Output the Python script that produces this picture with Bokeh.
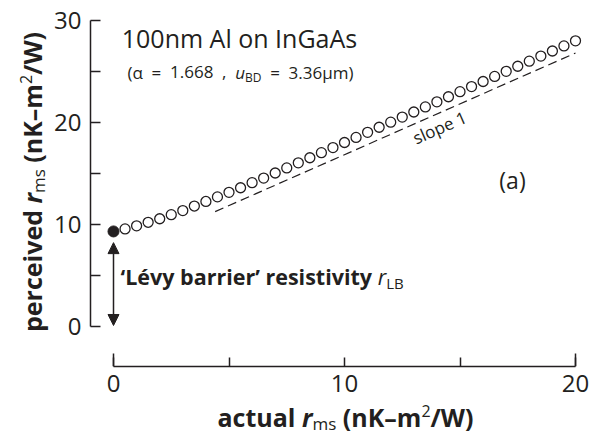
import math, os, subprocess
from bokeh.plotting import figure
from bokeh.models import Label, Arrow, NormalHead, FixedTicker, Range1d
from bokeh.embed import file_html
from bokeh.resources import INLINE

# ---------------- data ----------------
actual_rms = [0.0, 0.5, 1.0, 1.5, 2.0, 2.5, 3.0, 3.5, 4.0, 4.5,
              5.0, 5.5, 6.0, 6.5, 7.0, 7.5, 8.0, 8.5, 9.0, 9.5,
              10.0, 10.5, 11.0, 11.5, 12.0, 12.5, 13.0, 13.5, 14.0, 14.5,
              15.0, 15.5, 16.0, 16.5, 17.0, 17.5, 18.0, 18.5, 19.0, 19.5, 20.0]
perceived_rms = [9.3, 9.55, 9.85, 10.2, 10.55, 10.95, 11.35, 11.8, 12.25, 12.7,
                 13.15, 13.6, 14.1, 14.55, 15.05, 15.55, 16.05, 16.55, 17.05, 17.55,
                 18.05, 18.55, 19.05, 19.55, 20.05, 20.55, 21.05, 21.55, 22.05, 22.55,
                 23.05, 23.55, 24.05, 24.55, 25.05, 25.55, 26.05, 26.55, 27.05, 27.55, 28.05]
slope_x = [4.4, 20.0]
slope_y = [11.25, 26.85]
arrow_y = [8.2, 0.05]
x_ticks = [0, 10, 20]
x_minor = [5, 15]
y_ticks = [0, 10, 20, 30]
y_minor = [5, 15, 25]

# ---------------- layout ----------------
FONT = "Open Sans"
INK = "#231f20"
W, H = 600, 436
PPX, PPY = 23.1, 10.167          # pixels per data unit
OX, OY = 113.0, 325.5            # pixel position of data origin
X0, X1 = -OX / PPX, (W - OX) / PPX
Y0, Y1 = (OY - H) / PPY, OY / PPY
Y_AXIS_AT = (90 - OX) / PPX
X_AXIS_AT = (OY - 365.5) / PPY
BASE_FIX = {"alphabetic": 0.36, "middle": 0.13}


def dx(ix):
    return (ix - OX) / PPX


def dy(iy):
    return (OY - iy) / PPY


# --------- text measuring ---------
_font_cache = {}


def _font_path(style):
    spec = {"normal": "", "bold": ":bold", "italic": ":italic", "bold italic": ":bold:italic"}[style]
    try:
        out = subprocess.run(["fc-match", "-f", "%{file}", FONT + spec],
                             capture_output=True, text=True, timeout=10).stdout.strip()
        if out and os.path.exists(out):
            return out
    except Exception:
        pass
    return None


def width(text, size, style):
    try:
        from PIL import ImageFont
        key = (size, style)
        if key not in _font_cache:
            f = ImageFont.truetype(_font_path(style), size)
            try:
                names = [n.decode() if isinstance(n, bytes) else n for n in f.get_variation_names()]
                want = {"normal": "Regular", "bold": "Bold", "italic": "Italic",
                        "bold italic": "Bold Italic"}[style]
                if want in names:
                    f.set_variation_by_name(want)
            except Exception:
                pass
            _font_cache[key] = f
        return _font_cache[key].getlength(text)
    except Exception:
        return len(text) * size * (0.6 if "bold" in style else 0.55)


p = figure(width=W, height=H, x_range=Range1d(X0, X1), y_range=Range1d(Y0, Y1),
           output_backend="svg", toolbar_location=None,
           min_border_left=0, min_border_right=0, min_border_top=0, min_border_bottom=0)
p.grid.visible = False
p.outline_line_color = None

for ax, bounds, ticks, minor, tin, loc in (
        (p.xaxis[0], (x_ticks[0], x_ticks[-1]), x_ticks, x_minor, 9, X_AXIS_AT),
        (p.yaxis[0], (y_ticks[0], y_ticks[-1]), y_ticks, y_minor, 10, Y_AXIS_AT)):
    ax.fixed_location = loc
    ax.bounds = bounds
    ax.ticker = FixedTicker(ticks=ticks, minor_ticks=minor)
    ax.major_tick_in = tin
    ax.major_tick_out = 0
    ax.minor_tick_in = tin
    ax.minor_tick_out = 0
    ax.axis_line_width = 1.5
    ax.axis_line_color = INK
    ax.major_tick_line_width = 1.5
    ax.major_tick_line_color = INK
    ax.minor_tick_line_width = 1.5
    ax.minor_tick_line_color = INK
    ax.major_label_text_font = FONT
    ax.major_label_text_font_size = "24px"
    ax.major_label_text_color = INK
p.xaxis[0].major_label_standoff = 9
p.yaxis[0].major_label_standoff = 9

# longer end ticks on x axis
p.segment(x0=[x_ticks[0], x_ticks[-1]], y0=[X_AXIS_AT] * 2, x1=[x_ticks[0], x_ticks[-1]],
          y1=[X_AXIS_AT + 12.5 / PPY] * 2, line_color=INK, line_width=1.5)

# slope-1 dashed line
p.line(slope_x, slope_y, line_color=INK, line_width=1.2, line_dash="9 5")

# data
p.scatter(actual_rms[1:], perceived_rms[1:], marker="circle", size=10,
          fill_color="white", line_color=INK, line_width=1.3)
p.scatter(actual_rms[:1], perceived_rms[:1], marker="circle", size=11,
          fill_color=INK, line_color=INK, line_width=1)

# double arrow
head = dict(size=11, fill_color=INK, line_color=INK, line_width=1)
p.add_layout(Arrow(start=NormalHead(**head), end=NormalHead(**head),
                   x_start=actual_rms[0], y_start=arrow_y[0], x_end=actual_rms[0], y_end=arrow_y[1],
                   line_color=INK, line_width=1.5))


def label(ix, iy, text, size, style="normal", xo=0.0, yo=0.0, angle=0.0,
          align="left", baseline="alphabetic"):
    fix = BASE_FIX.get(baseline, 0.0) * size
    xo = xo - fix * math.sin(angle)
    yo = yo + fix * math.cos(angle)
    p.add_layout(Label(x=dx(ix), y=dy(iy), x_offset=xo, y_offset=yo, text=text,
                       text_font=FONT, text_font_size=f"{size}px", text_font_style=style,
                       text_color=INK, text_align=align, text_baseline=baseline,
                       angle=angle))


def runs_width(parts):
    return sum(width(t, s, st) for t, s, st, _ in parts)


def runs(ix, iy, parts, angle=0.0):
    pos = 0.0
    for text, size, style, shift in parts:
        lead = len(text) - len(text.lstrip(" "))
        adv = pos + width(text[:lead], size, style)
        if angle == 0.0:
            xo, yo = adv, shift
        else:
            xo, yo = -shift, adv
        label(ix, iy, text.strip(" "), size, style, xo, yo, angle)
        pos += width(text, size, style)


# title (centred on its reference extent)
t_size = 25
title_parts = [("100nm Al on InGaAs", t_size, "normal", 0)]
runs(239 - runs_width(title_parts) / 2, 46, title_parts)

# subtitle, spread over its reference extent
s_size = 17
sub_parts = [("(α", s_size, "normal", 0), ("=", s_size, "normal", 0), ("1.668", s_size, "normal", 0),
             (",", s_size, "normal", 0), ("u", s_size, "italic", 0), ("BD", 12, "normal", -3),
             ("=", s_size, "normal", 0), ("3.36μm)", s_size, "normal", 0)]
gap = (226 - runs_width(sub_parts)) / 6
pos = 127.0
for i, part in enumerate(sub_parts):
    runs(pos, 78, [part])
    pos += width(part[0], part[1], part[2])
    if i != 4:                   # u and its subscript BD are set tight
        pos += gap

# axis labels (centred on their reference extents)
lab = 25
xlab = [("actual ", lab, "bold", 0), ("r", lab, "bold italic", 0),
        ("ms", 17, "normal", -4), (" (nK–m", lab, "bold", 0),
        ("2", 16, "normal", 9), ("/W)", lab, "bold", 0)]
runs(345 - runs_width(xlab) / 2, 425, xlab)
ylab = [("perceived ", lab, "bold", 0), ("r", lab, "bold italic", 0),
        ("ms", 17, "normal", -4), (" (nK–m", lab, "bold", 0),
        ("2", 16, "normal", 9), ("/W)", lab, "bold", 0)]
runs(40, 181.5 + runs_width(ylab) / 2, ylab, angle=math.pi / 2)

# Lévy barrier label
runs(120, 284, [("‘Lévy barrier’ resistivity ", 21.5, "bold", 0), ("r", 21.5, "italic", 0),
                ("LB", 15, "normal", -4)])

# (a)
label(512, 182, "(a)", 23, align="center", baseline="middle")

# slope 1
label(440, 129, "slope 1", 17, angle=math.atan2(PPY, PPX), align="center", baseline="middle")

open("out.html", "w").write(file_html(p, INLINE))
